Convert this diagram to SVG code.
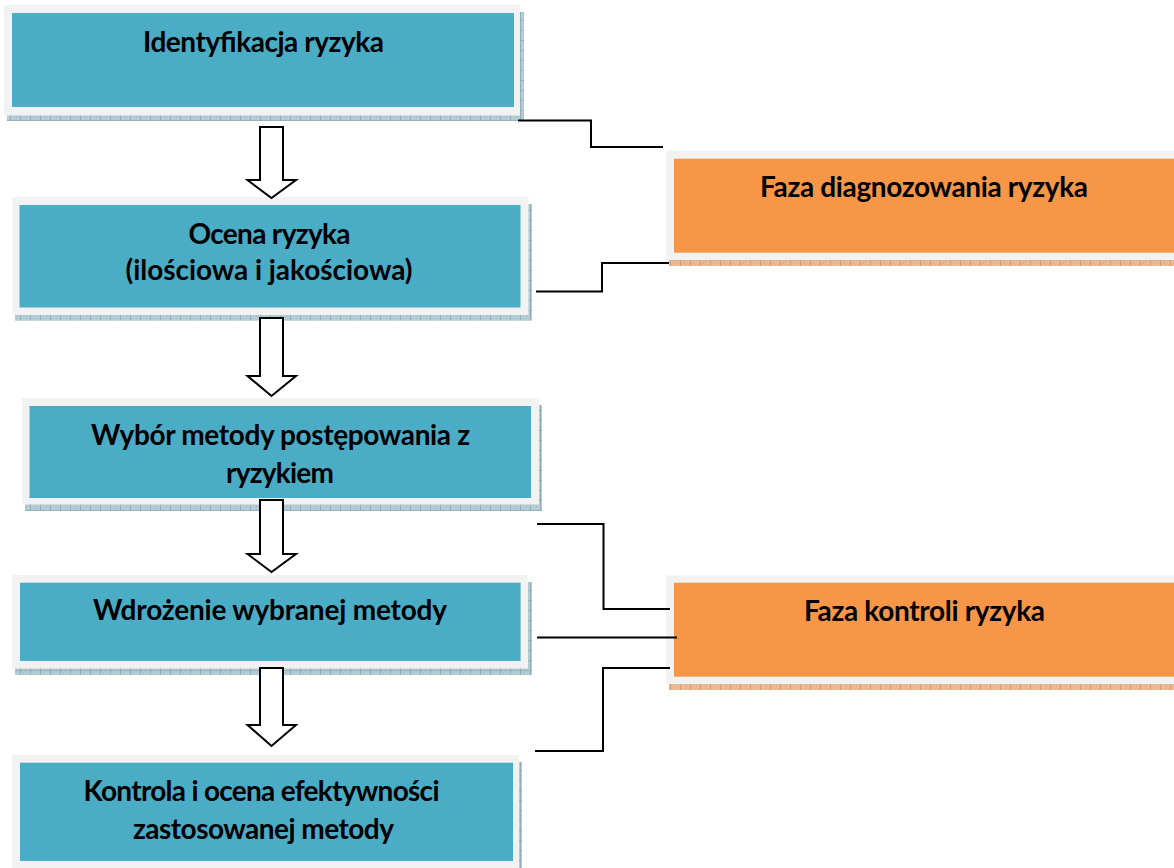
<svg xmlns="http://www.w3.org/2000/svg" width="1174" height="868" viewBox="0 0 1174 868">
<defs>
<pattern id="hb" patternUnits="userSpaceOnUse" width="10" height="10">
<rect width="10" height="10" fill="#b3cbd2"/>
<path d="M0,0 H10 M0,0 V10" stroke="#7c9ea8" stroke-width="1.2" fill="none"/>
<rect x="3" y="3" width="1" height="1" fill="#94b3bc"/><rect x="6" y="6" width="1" height="1" fill="#94b3bc"/>
</pattern>
<pattern id="ho" patternUnits="userSpaceOnUse" width="10" height="10">
<rect width="10" height="10" fill="#e8b995"/>
<path d="M0,0 H10 M0,0 V10" stroke="#c98c60" stroke-width="1.2" fill="none"/>
<rect x="3" y="3" width="1" height="1" fill="#d9a27a"/><rect x="6" y="6" width="1" height="1" fill="#d9a27a"/>
</pattern>
</defs>
<style>
.frame{fill:#f2f2f2}
.blue{fill:#4bacc6}
.orange{fill:#f79646}
.sb{fill:url(#hb)}
.so{fill:url(#ho)}
.t{font-family:Lato,"Liberation Sans",sans-serif;font-weight:700;font-size:28px;fill:#000;text-anchor:middle}
.conn{fill:none;stroke:#000;stroke-width:2}
.arr{fill:#fff;stroke:#000;stroke-width:2;stroke-linejoin:miter}
</style>

<g id="n1">
<rect class="sb" x="7" y="12" width="517" height="109"/>
<rect class="frame" x="4" y="5" width="516" height="110.5"/>
<rect class="blue" x="12" y="13" width="502" height="94"/>
<text class="t" x="263.5" y="52" textLength="241">Identyfikacja ryzyka</text>
</g>

<g id="n2">
<rect class="sb" x="15" y="204" width="517" height="116.5"/>
<rect class="frame" x="12.5" y="197" width="516" height="118"/>
<rect class="blue" x="19.5" y="205" width="501" height="102.5"/>
<text class="t" x="269.5" y="244" textLength="162">Ocena ryzyka</text>
<text class="t" x="269" y="280" textLength="287">(ilościowa i jakościowa)</text>
</g>

<g id="n3">
<rect class="sb" x="25" y="405" width="517" height="106"/>
<rect class="frame" x="22" y="398" width="517" height="106.5"/>
<rect class="blue" x="29.5" y="406" width="501.5" height="92"/>
<text class="t" x="280.5" y="445" textLength="379">Wybór metody postępowania z</text>
<text class="t" x="280" y="483" textLength="108">ryzykiem</text>
</g>

<g id="n4">
<rect class="sb" x="15" y="582" width="517" height="93"/>
<rect class="frame" x="12" y="575" width="516" height="93.5"/>
<rect class="blue" x="20" y="582.7" width="500.6" height="78.3"/>
<text class="t" x="270" y="620" textLength="354">Wdrożenie wybranej metody</text>
</g>

<g id="n5">
<rect class="sb" x="15" y="762" width="507" height="110"/>
<rect class="frame" x="12" y="755" width="507" height="113"/>
<rect class="blue" x="20" y="762.7" width="493" height="98.3"/>
<text class="t" x="261.5" y="801" textLength="356">Kontrola i ocena efektywności</text>
<text class="t" x="263.5" y="839" textLength="261">zastosowanej metody</text>
</g>

<g id="p1">
<rect class="so" x="669" y="158" width="510" height="108"/>
<rect class="frame" x="666" y="150.7" width="510" height="109.5"/>
<rect class="orange" x="674" y="158.7" width="502" height="94"/>
<text class="t" x="924" y="197" textLength="328">Faza diagnozowania ryzyka</text>
</g>

<g id="p2">
<rect class="so" x="669" y="582" width="510" height="108"/>
<rect class="frame" x="666" y="575.3" width="510" height="108.7"/>
<rect class="orange" x="674" y="582.7" width="502" height="94"/>
<text class="t" x="924.5" y="621" textLength="241">Faza kontroli ryzyka</text>
</g>

<g id="arrows">
<path class="arr" d="M260,127 H283 V180 H296 L271.5,198 L247.5,180 H260 Z"/>
<path class="arr" d="M260,318 H283 V376 H296 L271.5,396 L247.5,376 H260 Z"/>
<path class="arr" d="M260,500 H283 V554 H296 L271.5,572 L247.5,554 H260 Z"/>
<path class="arr" d="M260,668 H283 V725 H296 L271.5,746 L247.5,725 H260 Z"/>
</g>

<g id="connectors">
<path class="conn" d="M518,120.5 H591 V147 H663"/>
<path class="conn" d="M669,263 H602 V291.5 H536"/>
<path class="conn" d="M537,524 H603.5 V609 H670"/>
<path class="conn" d="M537,637.5 H677"/>
<path class="conn" d="M670,668 H603 V751 H535"/>
</g>
</svg>
